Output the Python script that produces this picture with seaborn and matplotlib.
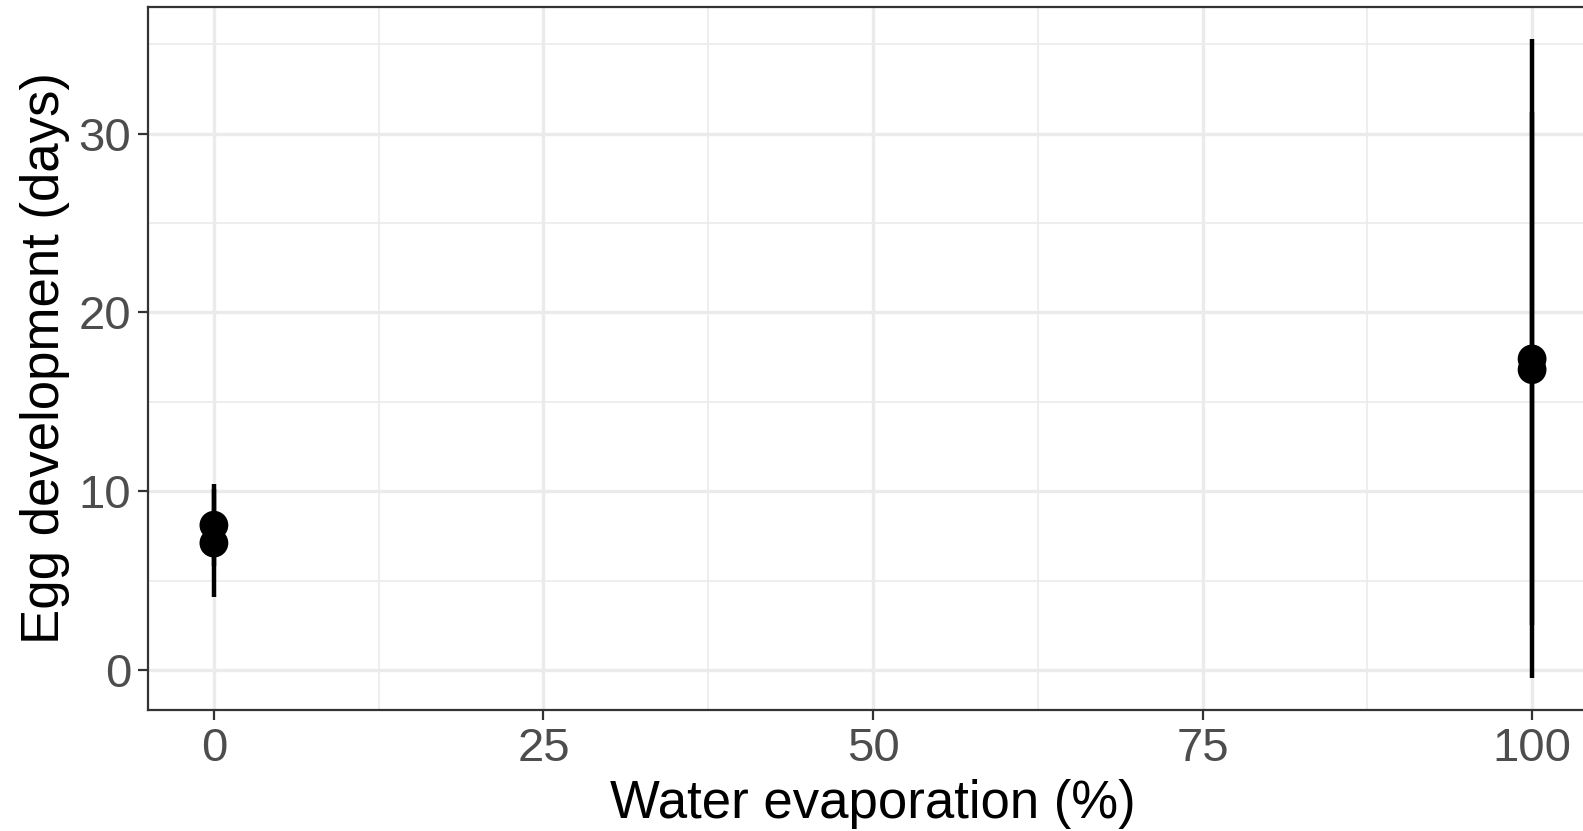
import numpy as np
import pandas as pd
import matplotlib
matplotlib.use('Agg')
import matplotlib.pyplot as plt
import seaborn as sns

# 数据
evaporation = [0, 0, 100, 100]
days_mean = [8.1, 7.1, 17.4, 16.8]
ci_low = [5.8, 4.1, -0.45, 2.5]
ci_high = [10.4, 10.1, 35.3, 31.2]
x_ticks = [0, 25, 50, 75, 100]
y_ticks = [0, 10, 20, 30]

df = pd.DataFrame({'evap': evaporation, 'days': days_mean,
                   'lo': ci_low, 'hi': ci_high})

sns.set_theme(style='white')
plt.rcParams['font.family'] = ['Liberation Sans', 'DejaVu Sans']

W, H = 1583, 831
fig = plt.figure(figsize=(W / 100, H / 100), dpi=100)
# 面板右边缘超出画布（原图被裁切）
left, right, top, bottom = 148, 1598, 7, 710
ax = fig.add_axes([left / W, 1 - bottom / H, (right - left) / W, (bottom - top) / H])

# 网格（theme_bw 风格）
for v in [12.5, 37.5, 62.5, 87.5]:
    ax.axvline(v, color='#EBEBEB', lw=1.2, zorder=0)
for v in [5, 15, 25, 35]:
    ax.axhline(v, color='#EBEBEB', lw=1.2, zorder=0)
for v in x_ticks:
    ax.axvline(v, color='#EBEBEB', lw=2.4, zorder=0)
for v in y_ticks:
    ax.axhline(v, color='#EBEBEB', lw=2.4, zorder=0)

# 误差线
ax.vlines(df['evap'], df['lo'], df['hi'], color='black', lw=3.2, zorder=2)
# 均值点
sns.scatterplot(data=df, x='evap', y='days', ax=ax, color='black', s=430,
                edgecolor='none', zorder=3, legend=False)

lo_all, hi_all = min(ci_low), max(ci_high)
span = hi_all - lo_all
ax.set_ylim(lo_all - 0.05 * span, hi_all + 0.05 * span)
ax.set_xlim(-5, 105)

ax.set_xticks(x_ticks)
ax.set_yticks(y_ticks)
ax.tick_params(axis='both', which='major', length=7, width=1.6, color='#333333',
               labelsize=34, labelcolor='#4D4D4D', pad=5, direction='out',
               bottom=True, left=True)
ax.grid(False)

for s in ax.spines.values():
    s.set_color('#333333')
    s.set_linewidth(1.6)

ax.set_xlabel('Water evaporation (%)', fontsize=38, color='black', labelpad=6)
ax.set_ylabel('Egg development (days)', fontsize=38, color='black', labelpad=6)

plt.savefig('out.png', dpi=100)
